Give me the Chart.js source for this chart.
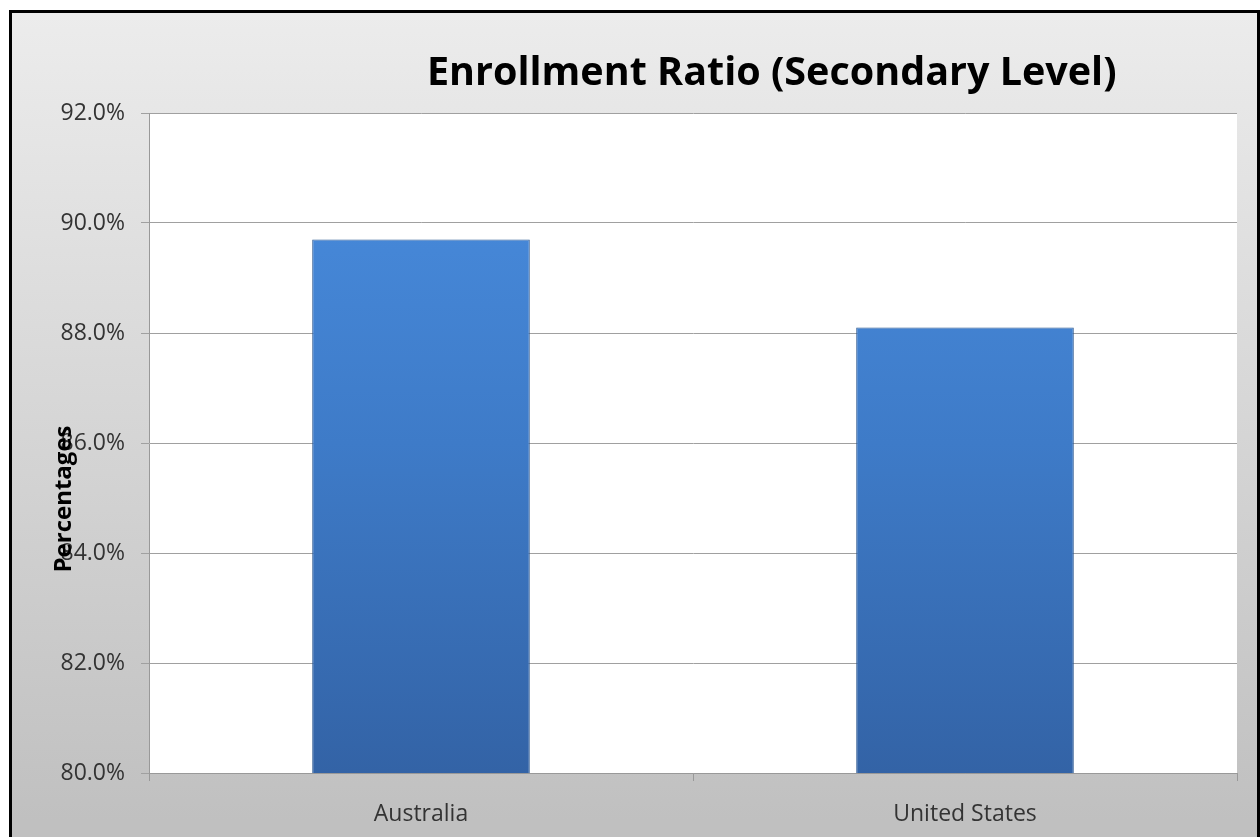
<!DOCTYPE html>
<html>
<head>
<meta charset="utf-8">
<script src="https://cdn.jsdelivr.net/npm/chart.js@4.4.0/dist/chart.umd.min.js"></script>
<style>
  body { margin: 0; width: 1260px; height: 837px; overflow: hidden; background: #fff; }
  #fondo {
    position: absolute; left: 9px; top: 10px; width: 1245px; height: 850px;
    border: 3px solid #000;
    background: linear-gradient(#ececec, #c0c0c0 95%);
  }
  #grafico { position: absolute; left: 0; top: 0; }
</style>
</head>
<body>
<div id="fondo"></div>
<canvas id="grafico" width="1260" height="837"></canvas>
<script>
// dados do grafico
var paises = ['Australia', 'United States']
var taxas = [89.7, 88.1]
var tituloGrafico = 'Enrollment Ratio (Secondary Level)'
var tituloEixoY = 'Percentages'
var eixoMin = 80
var eixoMax = 92
var passo = 2

// fundo branco da area do grafico
var fundoPlugin = {
  id: 'fundoBranco',
  beforeDraw: function (chart) {
    var a = chart.chartArea
    chart.ctx.save()
    chart.ctx.fillStyle = '#ffffff'
    chart.ctx.fillRect(a.left, a.top, a.right - a.left, a.bottom - a.top)
    chart.ctx.restore()
  }
}

// titulo e nome do eixo desenhados por cima (como no excel)
var textosPlugin = {
  id: 'textos',
  afterDraw: function (chart) {
    var ctx = chart.ctx
    ctx.save()
    ctx.fillStyle = '#000'
    ctx.font = 'bold 39.5px "Open Sans"'
    ctx.textAlign = 'left'
    ctx.textBaseline = 'alphabetic'
    ctx.fillText(tituloGrafico, 427, 85)

    ctx.translate(64, 499)
    ctx.rotate(-Math.PI / 2)
    ctx.font = 'bold 24px "Open Sans"'
    ctx.textAlign = 'center'
    ctx.textBaseline = 'middle'
    ctx.fillText(tituloEixoY, 0, 0)
    ctx.restore()
  }
}

function corBarra(context) {
  var area = context.chart.chartArea
  if (!area) return '#3d7cc9'
  var g = context.chart.ctx.createLinearGradient(0, area.top, 0, area.bottom)
  g.addColorStop(0, '#4a8ee0')
  g.addColorStop(0.5, '#3e7bc8')
  g.addColorStop(1, '#3363a6')
  return g
}

let dados = {
  labels: paises,
  datasets: [{
    label: 'Enrollment Ratio',
    data: taxas,
    backgroundColor: corBarra,
    borderColor: '#2b5790',
    borderWidth: 1,
    barPercentage: 0.4,
    categoryPercentage: 1.0
  }]
}

const config = {
  type: 'bar',
  data: dados,
  plugins: [fundoPlugin, textosPlugin],
  options: {
    responsive: false,
    animation: false,
    layout: { padding: { left: 0, top: 113, right: 23, bottom: 0 } },
    plugins: {
      legend: { display: false },
      title: { display: false },
      tooltip: { enabled: false }
    },
    scales: {
      x: {
        afterFit: function (scale) { scale.height = 64 },
        grid: { drawOnChartArea: false, drawTicks: true, tickLength: 8, color: '#999', offset: true },
        border: { color: '#999', width: 1 },
        ticks: { color: '#333', font: { family: 'Open Sans', size: 23 }, padding: 20 }
      },
      y: {
        min: eixoMin,
        max: eixoMax,
        afterFit: function (scale) { scale.width = 149 },
        grid: { color: '#a0a0a0', tickLength: 8 },
        border: { color: '#999', width: 1 },
        ticks: {
          stepSize: passo,
          color: '#333',
          font: { family: 'Open Sans', size: 23 },
          padding: 16,
          callback: function (v) { return v.toFixed(1) + '%' }
        }
      }
    }
  }
}

var myChart = new Chart(document.getElementById('grafico'), config)
</script>
</body>
</html>
